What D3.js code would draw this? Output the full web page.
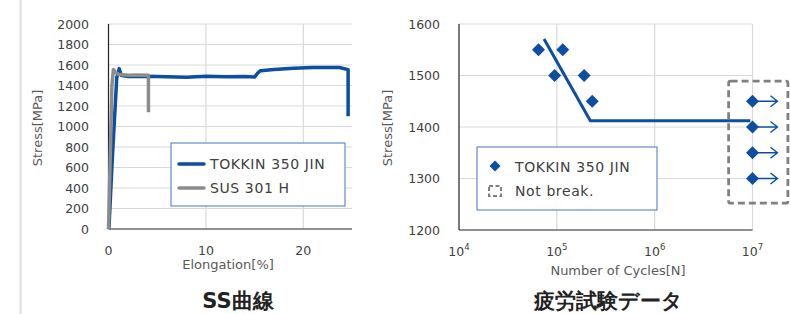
<!DOCTYPE html>
<html>
<head>
<meta charset="utf-8">
<script src="https://cdn.jsdelivr.net/npm/d3@7"></script>
<style>
  body { margin: 0; background: #fff; }
  svg text { font-family: "DejaVu Sans", Verdana, sans-serif; }
</style>
</head>
<body>
<div id="chart"></div>
<script>
// SS curve data [elongation %, stress MPa]
var tokkinSS = [[0, 0], [0.05, 20], [0.4, 700], [0.85, 1480], [1.0, 1520], [1.1, 1565], [1.3, 1500],
  [2, 1488], [4, 1490], [6, 1486], [8, 1480], [10, 1490], [12, 1486], [14, 1488], [15.0, 1482],
  [15.3, 1520], [15.6, 1545], [17, 1555], [19, 1568], [21, 1575], [23.7, 1575], [24.6, 1555], [24.6, 1100]];
var susSS = [[0, 0], [0.15, 600], [0.35, 1400], [0.5, 1555], [0.7, 1530], [1.0, 1510], [2, 1500],
  [3, 1502], [4.1, 1500], [4.1, 1140]];
var ssYTicks = [0, 200, 400, 600, 800, 1000, 1200, 1400, 1600, 1800, 2000];
var ssXTicks = [0, 10, 20];
var ssSeries = ["TOKKIN 350 JIN", "SUS 301 H"];

// Fatigue data [cycles, stress MPa]
var fatiguePoints = [[65000, 1550], [115000, 1550], [95000, 1500], [190000, 1500], [230000, 1450]];
var notBreakPoints = [[1e7, 1450], [1e7, 1400], [1e7, 1350], [1e7, 1300]];
var arrowEnd = 1.8e7;
var fitLine = [[74000, 1571], [220000, 1412], [9.5e6, 1412]];
var notBreakBox = {x0: 5.7e6, x1: 2.3e7, y0: 1489, y1: 1252};
var fatYTicks = [1200, 1300, 1400, 1500, 1600];
var fatXExp = [4, 5, 6, 7];
var fatLegend = ["TOKKIN 350 JIN", "Not break."];

var blue = "#0b4ea2", gray = "#8c8c8c", grid = "#d9d9d9", textGray = "#595959";

var svg = d3.select("#chart").append("svg")
  .attr("width", 791).attr("height", 314);

// divider line at left
svg.append("line").attr("x1", 20.5).attr("x2", 20.5).attr("y1", 0).attr("y2", 314)
  .attr("stroke", "#e0e0e0").attr("stroke-width", 2);

// diamond marker, a square turned 45 degrees
var diamondPath = "M0,-6.5L6.5,0L0,6.5L-6.5,0Z";

// ---------- SS curve ----------
var x1 = d3.scaleLinear().domain([0, 25]).range([108.5, 352]);
var y1 = d3.scaleLinear().domain([0, 2000]).range([229, 24]);
var g1 = svg.append("g");

g1.selectAll(".hg").data(ssYTicks.slice(1)).enter().append("line")
  .attr("x1", x1(0)).attr("x2", x1(25)).attr("y1", d => y1(d)).attr("y2", d => y1(d))
  .attr("stroke", grid).attr("stroke-width", 1.2);
g1.selectAll(".vg").data(ssXTicks.slice(1)).enter().append("line")
  .attr("x1", d => x1(d)).attr("x2", d => x1(d)).attr("y1", y1(0)).attr("y2", y1(2000))
  .attr("stroke", grid).attr("stroke-width", 1.2);

g1.append("line").attr("x1", x1(0)).attr("x2", x1(0)).attr("y1", y1(2000)).attr("y2", y1(0))
  .attr("stroke", "#222").attr("stroke-width", 1.2);
g1.append("line").attr("x1", x1(0)).attr("x2", x1(25)).attr("y1", y1(0)).attr("y2", y1(0))
  .attr("stroke", "#222").attr("stroke-width", 1.2);

g1.selectAll(".yl").data(ssYTicks).enter().append("text")
  .attr("x", 89).attr("y", d => y1(d)).attr("dy", "0.36em")
  .attr("text-anchor", "end").attr("font-size", 12.5).attr("fill", "#404040")
  .text(d => d);
g1.selectAll(".xl").data(ssXTicks).enter().append("text")
  .attr("x", d => x1(d)).attr("y", 255)
  .attr("text-anchor", "middle").attr("font-size", 12.5).attr("fill", "#404040")
  .text(d => d);

g1.append("text").attr("transform", "translate(42,128) rotate(-90)")
  .attr("text-anchor", "middle").attr("font-size", 13).attr("fill", textGray)
  .text("Stress[MPa]");
g1.append("text").attr("x", 228).attr("y", 269)
  .attr("text-anchor", "middle").attr("font-size", 13).attr("fill", textGray)
  .text("Elongation[%]");
g1.append("text").attr("x", 238).attr("y", 308)
  .attr("text-anchor", "middle").attr("font-size", 21).attr("font-weight", "bold").attr("fill", "#222")
  .attr("font-family", "'Noto Sans CJK JP', sans-serif")
  .text("SS曲線");

var line1 = d3.line().x(d => x1(d[0])).y(d => y1(d[1]));
g1.append("path").attr("d", line1(tokkinSS)).attr("fill", "none")
  .attr("stroke", blue).attr("stroke-width", 3.5).attr("stroke-linejoin", "round");
g1.append("path").attr("d", line1(susSS)).attr("fill", "none")
  .attr("stroke", gray).attr("stroke-width", 3.5).attr("stroke-linejoin", "round");

var leg1 = g1.append("g").attr("transform", "translate(171,143)");
leg1.append("rect").attr("width", 174).attr("height", 63)
  .attr("fill", "#fff").attr("stroke", "#4472c4").attr("stroke-width", 1);
leg1.selectAll(".li").data(ssSeries).enter().append("line")
  .attr("x1", 8).attr("x2", 33).attr("y1", (d, i) => 21 + i * 24).attr("y2", (d, i) => 21 + i * 24)
  .attr("stroke", (d, i) => i === 0 ? blue : gray).attr("stroke-width", 3.5).attr("stroke-linecap", "round");
leg1.selectAll(".lt").data(ssSeries).enter().append("text")
  .attr("x", 39).attr("y", (d, i) => 21 + i * 24).attr("dy", "0.36em")
  .attr("font-size", 14).attr("letter-spacing", 0.6).attr("fill", "#404040").text(d => d);

// ---------- Fatigue ----------
var x2 = d3.scaleLog().domain([1e4, 1e7]).range([459, 752.5]);
var y2 = d3.scaleLinear().domain([1200, 1600]).range([230, 24]);
var g2 = svg.append("g");

g2.selectAll(".hg").data(fatYTicks.slice(1)).enter().append("line")
  .attr("x1", x2(1e4)).attr("x2", x2(1e7)).attr("y1", d => y2(d)).attr("y2", d => y2(d))
  .attr("stroke", grid).attr("stroke-width", 1.2);
g2.selectAll(".vg").data(fatXExp.slice(1)).enter().append("line")
  .attr("x1", d => x2(Math.pow(10, d))).attr("x2", d => x2(Math.pow(10, d)))
  .attr("y1", y2(1200)).attr("y2", y2(1600))
  .attr("stroke", grid).attr("stroke-width", 1.2);

g2.append("line").attr("x1", x2(1e4)).attr("x2", x2(1e4)).attr("y1", y2(1600)).attr("y2", y2(1200))
  .attr("stroke", "#222").attr("stroke-width", 1.2);
g2.append("line").attr("x1", x2(1e4)).attr("x2", x2(1e7)).attr("y1", y2(1200)).attr("y2", y2(1200))
  .attr("stroke", "#222").attr("stroke-width", 1.2);

g2.selectAll(".yl").data(fatYTicks).enter().append("text")
  .attr("x", 440).attr("y", d => y2(d)).attr("dy", "0.36em")
  .attr("text-anchor", "end").attr("font-size", 12.5).attr("fill", "#404040")
  .text(d => d);
var xl = g2.selectAll(".xl").data(fatXExp).enter().append("text")
  .attr("x", d => x2(Math.pow(10, d))).attr("y", 256)
  .attr("text-anchor", "middle").attr("font-size", 12.5).attr("fill", "#404040");
xl.append("tspan").text("10");
xl.append("tspan").attr("dy", -6).attr("font-size", 8.5).text(d => d);

g2.append("text").attr("transform", "translate(392,128) rotate(-90)")
  .attr("text-anchor", "middle").attr("font-size", 13).attr("fill", textGray)
  .text("Stress[MPa]");
g2.append("text").attr("x", 618).attr("y", 275)
  .attr("text-anchor", "middle").attr("font-size", 13).attr("fill", textGray)
  .text("Number of Cycles[N]");
g2.append("text").attr("x", 608).attr("y", 308)
  .attr("text-anchor", "middle").attr("font-size", 21).attr("font-weight", "bold").attr("fill", "#222")
  .attr("font-family", "'Noto Sans CJK JP', sans-serif")
  .text("疲労試験データ");

var line2 = d3.line().x(d => x2(d[0])).y(d => y2(d[1]));
g2.append("path").attr("d", line2(fitLine)).attr("fill", "none")
  .attr("stroke", blue).attr("stroke-width", 3);

g2.selectAll(".pt").data(fatiguePoints.concat(notBreakPoints)).enter().append("path")
  .attr("d", diamondPath).attr("transform", d => `translate(${x2(d[0])},${y2(d[1])})`)
  .attr("fill", blue);

// arrows for not-break points
g2.selectAll(".ar").data(notBreakPoints).enter().append("path")
  .attr("d", d => {
    var xs = x2(d[0]), xe = x2(arrowEnd), yy = y2(d[1]);
    return `M${xs},${yy}H${xe}M${xe - 7},${yy - 5.5}L${xe},${yy}L${xe - 7},${yy + 5.5}`;
  })
  .attr("fill", "none").attr("stroke", blue).attr("stroke-width", 1.4);

g2.append("rect")
  .attr("x", x2(notBreakBox.x0)).attr("y", y2(notBreakBox.y0))
  .attr("width", x2(notBreakBox.x1) - x2(notBreakBox.x0))
  .attr("height", y2(notBreakBox.y1) - y2(notBreakBox.y0))
  .attr("rx", 2).attr("fill", "none").attr("stroke", "#808080")
  .attr("stroke-width", 2.8).attr("stroke-dasharray", "7,4");

var leg2 = g2.append("g").attr("transform", "translate(477,147)");
leg2.append("rect").attr("width", 180).attr("height", 63)
  .attr("fill", "#fff").attr("stroke", "#4472c4").attr("stroke-width", 1);
leg2.append("path").attr("d", diamondPath).attr("transform", "translate(18,19) scale(0.85)").attr("fill", blue);
leg2.append("rect").attr("x", 12).attr("y", 39).attr("width", 12).attr("height", 10)
  .attr("fill", "none").attr("stroke", "#808080").attr("stroke-width", 2).attr("stroke-dasharray", "4,2.5");
leg2.selectAll(".lt").data(fatLegend).enter().append("text")
  .attr("x", 38).attr("y", (d, i) => 20 + i * 24).attr("dy", "0.36em")
  .attr("font-size", 14).attr("letter-spacing", 0.6).attr("fill", "#404040").text(d => d);
</script>
</body>
</html>
